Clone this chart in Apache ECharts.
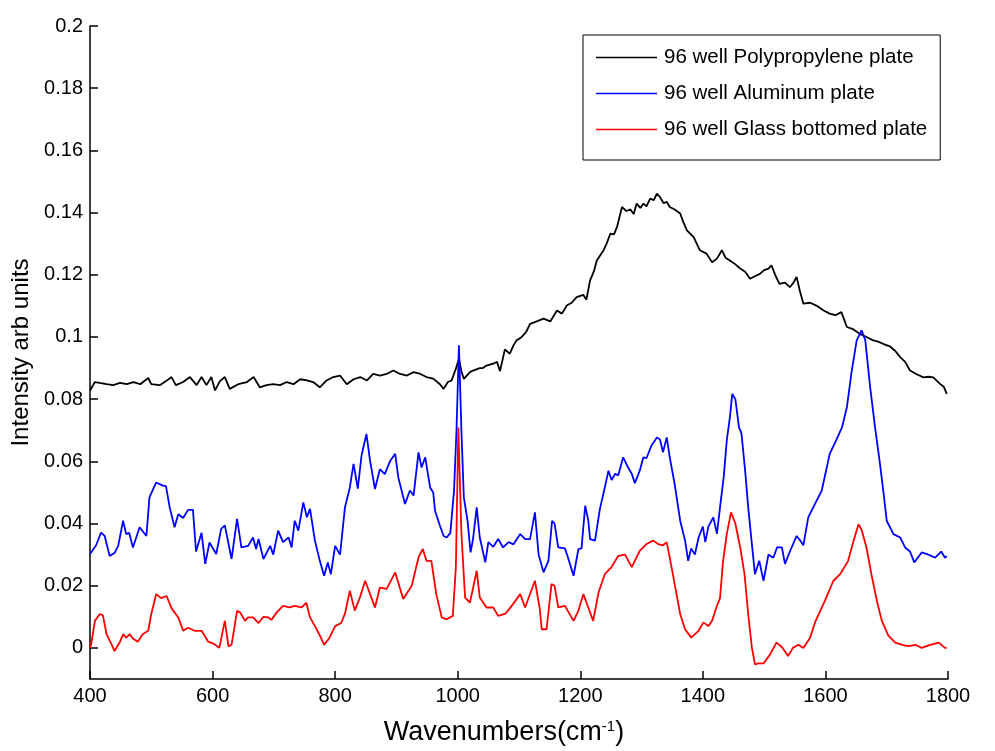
<!DOCTYPE html>
<html>
<head>
<meta charset="utf-8">
<script src="https://cdn.jsdelivr.net/npm/echarts@6/dist/echarts.min.js"></script>
<style>
html,body{margin:0;padding:0;background:#fff;}
#chart{width:995px;height:751px;}
</style>
</head>
<body>
<div id="chart"></div>
<script>
const seriesNames = ['96 well Polypropylene plate', '96 well Aluminum plate', '96 well Glass bottomed plate'];

const blackX = [400,403,408,416,427,438,449,460,471,482,495,500,514,524,533,540,552,563,574,582,590,598,604,612,620,628,642,656,667,677,688,699,710,721,732,743,754,764,775,786,797,808,819,830,841,852,862,873,884,895,906,917,928,939,949,960,971,977,984,990,997,1002,1006,1010,1020,1025,1036,1041,1047,1058,1064,1069,1077,1085,1091,1096,1104,1112,1118,1129,1140,1151,1162,1170,1178,1186,1194,1205,1210,1216,1222,1227,1238,1243,1249,1255,1260,1268,1275,1282,1287,1292,1298,1303,1308,1314,1320,1325,1330,1336,1341,1346,1354,1363,1368,1374,1385,1390,1395,1406,1415,1423,1431,1437,1444,1452,1461,1469,1477,1485,1493,1500,1507,1512,1518,1525,1534,1542,1548,1553,1558,1564,1575,1586,1597,1607,1616,1626,1635,1645,1656,1667,1678,1686,1694,1705,1714,1722,1730,1738,1749,1760,1768,1776,1787,1793,1798];
const blackY = [0.0828,0.0830,0.0855,0.0852,0.0848,0.0845,0.0852,0.0848,0.0855,0.0848,0.0868,0.0848,0.0845,0.0858,0.0871,0.0845,0.0855,0.0871,0.0845,0.0871,0.0845,0.0871,0.0828,0.0858,0.0871,0.0833,0.0848,0.0855,0.0871,0.0838,0.0845,0.0848,0.0845,0.0855,0.0848,0.0864,0.0860,0.0855,0.0838,0.0860,0.0871,0.0876,0.0848,0.0864,0.0871,0.0860,0.0881,0.0876,0.0881,0.0892,0.0881,0.0876,0.0887,0.0881,0.0871,0.0866,0.0848,0.0833,0.0855,0.0860,0.0898,0.0930,0.0890,0.0865,0.0887,0.0892,0.0900,0.0900,0.0908,0.0914,0.0920,0.0890,0.0960,0.0946,0.0973,0.0989,0.0999,0.1017,0.1042,0.1050,0.1059,0.1050,0.1085,0.1075,0.1101,0.1110,0.1128,0.1135,0.1120,0.1182,0.1210,0.1246,0.1279,0.1300,0.1332,0.1330,0.1354,0.1418,0.1405,0.1410,0.1395,0.1429,0.1415,0.1429,0.1420,0.1445,0.1440,0.1461,0.1450,0.1430,0.1435,0.1418,0.1410,0.1397,0.1370,0.1343,0.1321,0.1300,0.1279,0.1268,0.1240,0.1252,0.1279,0.1255,0.1246,0.1235,0.1220,0.1210,0.1187,0.1195,0.1203,0.1215,0.1220,0.1230,0.1200,0.1171,0.1175,0.1160,0.1175,0.1193,0.1150,0.1107,0.1110,0.1100,0.1085,0.1075,0.1070,0.1080,0.1032,0.1025,0.1010,0.1000,0.0989,0.0985,0.0978,0.0970,0.0955,0.0935,0.0920,0.0892,0.0880,0.0870,0.0872,0.0870,0.0849,0.0840,0.0817];

const blueX = [400,410,418,424,432,440,446,454,459,464,470,481,492,497,508,519,524,530,538,544,552,560,568,573,582,588,595,606,614,620,631,640,647,658,666,671,675,683,694,699,707,715,724,729,734,740,748,754,759,767,775,782,788,793,800,808,816,824,830,837,843,851,857,865,873,881,890,898,903,914,922,928,936,941,947,955,960,963,971,977,982,988,994,998,1002,1006,1010,1016,1021,1025,1031,1036,1045,1050,1058,1066,1074,1083,1091,1102,1110,1118,1126,1132,1140,1148,1154,1158,1164,1175,1180,1189,1197,1202,1208,1213,1216,1224,1232,1240,1246,1251,1257,1262,1270,1278,1284,1289,1297,1303,1308,1316,1325,1330,1335,1341,1346,1354,1363,1371,1376,1381,1387,1393,1400,1404,1409,1417,1423,1428,1434,1439,1444,1448,1453,1459,1463,1469,1474,1480,1485,1492,1499,1507,1515,1521,1529,1534,1542,1553,1559,1564,1572,1583,1594,1607,1618,1627,1635,1643,1651,1659,1665,1673,1681,1689,1695,1700,1711,1722,1730,1738,1745,1757,1768,1779,1789,1795,1798];
const blueY = [0.0302,0.0330,0.0371,0.0360,0.0296,0.0305,0.0328,0.0409,0.0366,0.0370,0.0323,0.0388,0.0360,0.0484,0.0532,0.0522,0.0520,0.0452,0.0388,0.0430,0.0418,0.0444,0.0444,0.0310,0.0370,0.0270,0.0339,0.0302,0.0383,0.0394,0.0286,0.0415,0.0323,0.0328,0.0355,0.0318,0.0350,0.0286,0.0328,0.0300,0.0377,0.0340,0.0355,0.0323,0.0409,0.0377,0.0468,0.0420,0.0447,0.0345,0.0280,0.0232,0.0275,0.0237,0.0328,0.0300,0.0452,0.0516,0.0592,0.0512,0.0618,0.0688,0.0602,0.0511,0.0575,0.0559,0.0602,0.0624,0.0549,0.0463,0.0506,0.0490,0.0629,0.0580,0.0613,0.0516,0.0500,0.0441,0.0393,0.0360,0.0355,0.0370,0.0506,0.0699,0.0973,0.0699,0.0484,0.0409,0.0307,0.0350,0.0452,0.0355,0.0275,0.0340,0.0325,0.0350,0.0323,0.0340,0.0333,0.0366,0.0350,0.0350,0.0436,0.0300,0.0243,0.0280,0.0409,0.0400,0.0323,0.0320,0.0290,0.0232,0.0318,0.0320,0.0457,0.0410,0.0350,0.0345,0.0447,0.0516,0.0570,0.0540,0.0560,0.0555,0.0613,0.0580,0.0560,0.0530,0.0570,0.0613,0.0610,0.0650,0.0677,0.0670,0.0629,0.0677,0.0613,0.0527,0.0409,0.0345,0.0280,0.0320,0.0300,0.0355,0.0390,0.0340,0.0390,0.0420,0.0367,0.0452,0.0549,0.0667,0.0740,0.0817,0.0800,0.0709,0.0690,0.0570,0.0452,0.0334,0.0237,0.0280,0.0216,0.0300,0.0290,0.0323,0.0323,0.0270,0.0310,0.0360,0.0345,0.0330,0.0420,0.0463,0.0506,0.0624,0.0670,0.0709,0.0774,0.0892,0.0989,0.1021,0.0990,0.0838,0.0709,0.0592,0.0495,0.0409,0.0366,0.0355,0.0323,0.0310,0.0275,0.0307,0.0300,0.0290,0.0310,0.0290,0.0295];

const redX = [400,402,408,416,421,427,435,440,449,454,459,465,470,478,486,495,500,508,516,525,533,544,552,560,571,582,593,603,611,620,626,631,640,645,653,658,666,675,683,691,696,705,715,726,734,745,753,759,767,775,782,790,800,810,816,824,832,840,849,857,865,873,884,898,911,925,936,943,949,957,965,974,982,992,997,1001,1006,1012,1020,1031,1036,1047,1058,1066,1078,1088,1102,1110,1126,1134,1137,1145,1153,1158,1164,1175,1189,1197,1205,1213,1221,1230,1240,1251,1262,1273,1284,1297,1308,1319,1327,1335,1341,1349,1354,1363,1371,1381,1393,1401,1409,1415,1422,1428,1433,1439,1446,1453,1461,1468,1474,1480,1485,1491,1499,1510,1520,1529,1539,1547,1556,1564,1575,1583,1599,1613,1624,1637,1646,1654,1659,1667,1675,1684,1692,1703,1714,1725,1736,1747,1757,1771,1785,1795,1798];
const redY = [0.0000,0.0012,0.0087,0.0109,0.0105,0.0044,0.0012,-0.0010,0.0020,0.0044,0.0033,0.0044,0.0030,0.0020,0.0044,0.0055,0.0109,0.0173,0.0160,0.0167,0.0128,0.0098,0.0055,0.0065,0.0055,0.0055,0.0020,0.0012,0.0000,0.0087,0.0005,0.0010,0.0119,0.0114,0.0087,0.0098,0.0098,0.0080,0.0100,0.0098,0.0090,0.0115,0.0135,0.0130,0.0135,0.0130,0.0145,0.0098,0.0070,0.0040,0.0010,0.0030,0.0070,0.0080,0.0110,0.0184,0.0120,0.0160,0.0216,0.0173,0.0130,0.0194,0.0190,0.0243,0.0157,0.0200,0.0291,0.0318,0.0280,0.0280,0.0173,0.0098,0.0092,0.0103,0.0260,0.0709,0.0370,0.0162,0.0146,0.0248,0.0162,0.0130,0.0130,0.0103,0.0110,0.0135,0.0173,0.0130,0.0216,0.0125,0.0060,0.0060,0.0205,0.0200,0.0130,0.0135,0.0087,0.0120,0.0173,0.0130,0.0087,0.0180,0.0237,0.0260,0.0296,0.0300,0.0260,0.0312,0.0334,0.0345,0.0334,0.0330,0.0340,0.0259,0.0205,0.0109,0.0060,0.0033,0.0055,0.0082,0.0070,0.0087,0.0130,0.0160,0.0280,0.0366,0.0436,0.0400,0.0323,0.0237,0.0109,0.0001,-0.0053,-0.0050,-0.0050,-0.0020,0.0017,0.0003,-0.0026,0.0000,0.0010,0.0000,0.0033,0.0082,0.0151,0.0216,0.0237,0.0280,0.0345,0.0398,0.0380,0.0323,0.0237,0.0151,0.0087,0.0039,0.0017,0.0010,0.0006,0.0010,0.0000,0.0010,0.0017,0.0000,0.0000];

const seriesColors = ['#000000', '#0000ff', '#ff0000'];

function pairs(xs, ys) { return xs.map((x, i) => [x, ys[i]]); }

const chart = echarts.init(document.getElementById('chart'), null, { renderer: 'canvas' });
const font = 'Liberation Sans, Arial, sans-serif';

chart.setOption({
  animation: false,
  backgroundColor: '#ffffff',
  textStyle: { fontFamily: font },
  grid: { left: 90, right: 47, top: 26, bottom: 72, containLabel: false, outerBoundsMode: 'none' },
  legend: {
    show: true,
    orient: 'vertical',
    left: 583,
    top: 35,
    backgroundColor: '#ffffff',
    borderColor: '#000000',
    borderWidth: 1,
    borderRadius: 0,
    padding: [12, 13, 20, 13],
    itemWidth: 61,
    itemHeight: 14,
    itemGap: 15,
    icon: 'rect',
    textStyle: { fontSize: 20.5, color: '#000', fontFamily: font, padding: [0, 0, 0, 2] },
    data: seriesNames.map((n, i) => ({
      name: n,
      icon: 'path://M0,6.2 L61,6.2 L61,7.8 L0,7.8 Z',
      itemStyle: { color: seriesColors[i], borderColor: seriesColors[i], borderWidth: 0, opacity: 1 },
      lineStyle: { color: seriesColors[i], width: 1.8, opacity: 0 }
    }))
  },
  xAxis: {
    type: 'value',
    min: 400,
    max: 1800,
    interval: 200,
    name: '{a|Wavenumbers(cm}{s|-1}{a|)}',
    nameLocation: 'middle',
    nameGap: 40,
    nameTextStyle: {
      padding: [0, 30, 0, 0],
      rich: {
        a: { fontSize: 27, color: '#000', fontFamily: font },
        s: { fontSize: 15, color: '#000', fontFamily: font, verticalAlign: 'top', padding: [0, 0, 10, 0] }
      }
    },
    axisLine: { show: true, onZero: false, lineStyle: { color: '#000', width: 1.5 } },
    axisTick: { show: true, inside: true, length: 8, lineStyle: { color: '#000', width: 1.5 } },
    axisLabel: { fontSize: 20, color: '#000', margin: 7, fontFamily: font, formatter: v => String(v) },
    splitLine: { show: false }
  },
  yAxis: {
    type: 'value',
    min: -0.01,
    max: 0.2,
    splitNumber: 10,
    name: 'Intensity arb units',
    nameLocation: 'middle',
    nameGap: 56,
    nameTextStyle: { fontSize: 24, color: '#000', fontFamily: font },
    axisLine: { show: true, onZero: false, lineStyle: { color: '#000', width: 1.5 } },
    axisTick: { show: true, inside: true, length: 8, lineStyle: { color: '#000', width: 1.5 } },
    axisLabel: {
      fontSize: 20, color: '#000', margin: 7, fontFamily: font, showMinLabel: false,
      formatter: v => (Math.abs(v) < 1e-9 ? '0' : String(parseFloat(v.toFixed(3))))
    },
    splitLine: { show: false }
  },
  series: [
    { name: seriesNames[0], type: 'line', data: pairs(blackX, blackY), symbol: 'none', color: seriesColors[0], lineStyle: { color: seriesColors[0], width: 1.8 }, itemStyle: { color: seriesColors[0] } },
    { name: seriesNames[1], type: 'line', data: pairs(blueX, blueY), symbol: 'none', color: seriesColors[1], lineStyle: { color: seriesColors[1], width: 1.8 }, itemStyle: { color: seriesColors[1] } },
    { name: seriesNames[2], type: 'line', data: pairs(redX, redY), symbol: 'none', color: seriesColors[2], lineStyle: { color: seriesColors[2], width: 1.8 }, itemStyle: { color: seriesColors[2] } }
  ]
});
</script>
</body>
</html>
